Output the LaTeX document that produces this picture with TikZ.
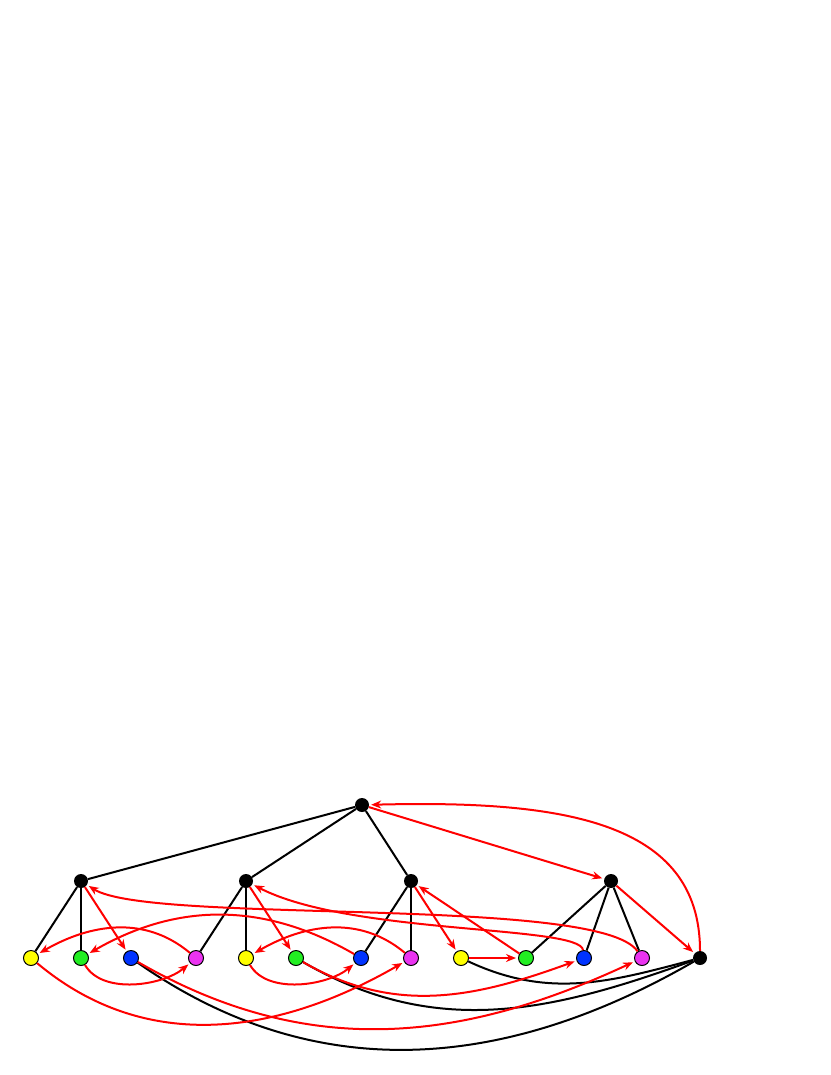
\documentclass[tikz,border=0pt]{standalone}
\usetikzlibrary{arrows.meta}
\definecolor{colyellow}{RGB}{255,255,0}
\definecolor{colgreen}{RGB}{34,238,34}
\definecolor{colblue}{RGB}{0,51,255}
\definecolor{colmagenta}{RGB}{234,51,240}
\tikzset{
  inner/.style={
    circle,
    fill=black,
    minimum size=14pt,
    inner sep=0pt
  },
  leaf/.style={
    circle,
    draw=black,
    line width=1pt,
    minimum size=15pt,
    inner sep=0pt
  },
  tree/.style={black,line width=2pt},
  move/.style={red,line width=2pt,-{Stealth[length=10pt,width=8pt]},
    shorten >=2pt}
}
\begin{document}
\begin{tikzpicture}[x=1pt,y=1pt]
  \useasboundingbox (0,0) rectangle (830,-1075);

  % The black nodes
  \node[inner] (r) at (362,-805) {};
  \foreach \name/\x in {a1/81,a2/246,a3/411,a4/611}
    \node[inner] (\name) at (\x,-881) {};
  \node[inner] (z) at (700,-958) {};

  % The coloured leaves
  \foreach \name/\x/\col in {y1/31/colyellow,g1/81/colgreen,b1/131/colblue,
      m1/196/colmagenta,y2/246/colyellow,g2/296/colgreen,b2/361/colblue,
      m2/411/colmagenta,y3/461/colyellow,g3/526/colgreen,b3/584/colblue,
      m3/642/colmagenta}
    \node[leaf,fill=\col] (\name) at (\x,-958) {};

  % Tree edges
  \foreach \a/\b in {r/a1,r/a2,r/a3,a1/y1,a1/g1,a2/m1,a2/y2,a3/b2,a3/m2,
      a4/g3,a4/b3,a4/m3}
    \draw[tree] (\a) -- (\b);
  \draw[tree] (y3) to[out=-25,in=-165] (z);
  \draw[tree] (g2) to[out=-30,in=-160] (z);
  \draw[tree] (b1) to[out=-35,in=-150] (z);

  % Straight moves
  \foreach \a/\b in {r/a4,a4/z,a1/b1,a2/g2,a3/y3,y3/g3,g3/a3}
    \draw[move] (\a) -- (\b);

  % Curved moves
  \draw[move] (z) .. controls (700,-820) and (560,-800) .. (r);
  \draw[move] (y1) to[out=-40,in=-150] (m2);
  \draw[move] (g1) to[out=-60,in=-140,looseness=0.85] (m1);
  \draw[move] (m1) to[out=140,in=30] (y1);
  \draw[move] (b2) to[out=150,in=30] (g1);
  \draw[move] (y2) to[out=-60,in=-140,looseness=0.85] (b2);
  \draw[move] (m2) to[out=140,in=30] (y2);
  \draw[move] (b1) to[out=-30,in=-155] (m3);
  \draw[move] (g2) to[out=-30,in=-160] (b3);
  \draw[move] (m3) .. controls (600,-895) and (150,-925) .. (a1);
  \draw[move] (b3) .. controls (580,-925) and (350,-935) .. (a2);
\end{tikzpicture}
\end{document}
